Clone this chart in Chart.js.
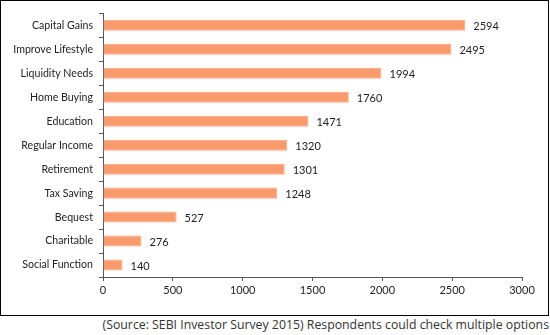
<!DOCTYPE html>
<html>
<head>
<meta charset="utf-8">
<script src="https://cdn.jsdelivr.net/npm/chart.js@4"></script>
<style>
  html, body { margin: 0; padding: 0; background: #fff; }
  #box { position: absolute; left: 0; top: 0; width: 547px; height: 314px; border: 1px solid #000; }
  #box canvas { display: block; }
  #caption { position: absolute; right: 1px; top: 317px; font-family: "Open Sans", sans-serif; font-size: 12.3px; color: #333; white-space: nowrap; line-height: 16px; }
</style>
</head>
<body>
<div id="box"><canvas id="c" width="547" height="314"></canvas></div>
<div id="caption">(Source: SEBI Investor Survey 2015) Respondents could check multiple options</div>
<script>
const categories = ["Capital Gains", "Improve Lifestyle", "Liquidity Needs", "Home Buying", "Education", "Regular Income", "Retirement", "Tax Saving", "Bequest", "Charitable", "Social Function"];
const values = [2594, 2495, 1994, 1760, 1471, 1320, 1301, 1248, 527, 276, 140];
const xTicks = [0, 500, 1000, 1500, 2000, 2500, 3000];

const valueLabels = {
  id: 'valueLabels',
  afterDatasetsDraw(chart) {
    const ctx = chart.ctx;
    const meta = chart.getDatasetMeta(0);
    ctx.save();
    ctx.font = '11px Lato, sans-serif';
    ctx.fillStyle = '#222';
    ctx.textAlign = 'left';
    ctx.textBaseline = 'middle';
    meta.data.forEach((bar, i) => {
      ctx.fillText(String(values[i]), bar.x + 8, bar.y + 1);
    });
    ctx.restore();
  }
};

new Chart(document.getElementById('c'), {
  type: 'bar',
  data: {
    labels: categories,
    datasets: [{
      data: values,
      backgroundColor: '#F99A6C',
      borderColor: '#F7A582',
      borderWidth: 1,
      categoryPercentage: 1,
      barPercentage: 0.46
    }]
  },
  options: {
    indexAxis: 'y',
    responsive: false,
    animation: false,
    devicePixelRatio: 1,
    layout: { padding: { top: 11, right: 26, bottom: 0, left: 0 } },
    plugins: { legend: { display: false }, tooltip: { enabled: false } },
    scales: {
      x: {
        min: 0, max: 3000,
        afterBuildTicks(scale) { scale.ticks = xTicks.map(v => ({ value: v })); },
        afterFit(scale) { scale.height = 38; },
        grid: { drawOnChartArea: false, drawTicks: true, tickLength: 4, color: '#555' },
        border: { display: true, color: '#555', width: 1 },
        ticks: { color: '#222', font: { family: 'Lato, sans-serif', size: 11 }, padding: 3, maxRotation: 0, callback: (v) => String(v) }
      },
      y: {
        afterFit(scale) { scale.width = 102; },
        grid: { drawOnChartArea: false, drawTicks: true, tickLength: 4, color: '#555', offset: true },
        border: { display: true, color: '#555', width: 1 },
        ticks: { color: '#222', font: { family: 'Lato, sans-serif', size: 10.6 }, padding: 6 }
      }
    }
  },
  plugins: [valueLabels]
});
</script>
</body>
</html>
